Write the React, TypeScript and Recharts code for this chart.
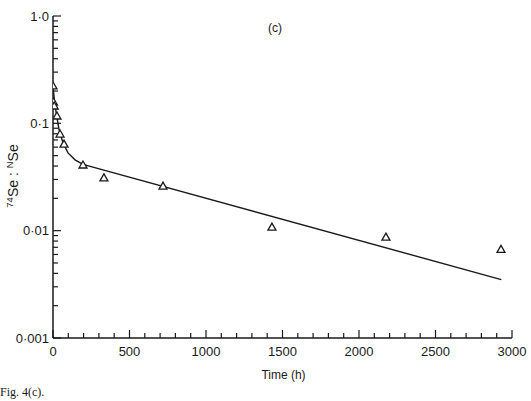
import React from 'react';
import { ComposedChart, Line, Scatter, XAxis, YAxis } from 'recharts';

// Observed 74Se : NSe ratios (triangles)
const obsTime = [0, 3, 8, 26, 46, 72, 196, 333, 719, 1431, 2176, 2928];
const obsRatio = [0.223, 0.158, 0.145, 0.117, 0.0795, 0.064, 0.0409, 0.031, 0.026, 0.0108, 0.0087, 0.0067];

// Fitted curve
const fitTime = [0, 10, 20, 39, 65, 98, 144, 196, 2930];
const fitRatio = [0.22, 0.16, 0.127, 0.088, 0.066, 0.053, 0.0457, 0.0415, 0.0035];

const xTicks = [0, 100, 200, 300, 400, 500, 600, 700, 800, 900, 1000, 1100, 1200, 1300, 1400, 1500, 1600, 1700, 1800, 1900, 2000, 2100, 2200, 2300, 2400, 2500, 2600, 2700, 2800, 2900, 3000];
const xMajor = [0, 500, 1000, 1500, 2000, 2500, 3000];
const yTicks = [0.001, 0.002, 0.003, 0.004, 0.005, 0.006, 0.007, 0.008, 0.009, 0.01, 0.02, 0.03, 0.04, 0.05, 0.06, 0.07, 0.08, 0.09, 0.1, 0.2, 0.3, 0.4, 0.5, 0.6, 0.7, 0.8, 0.9, 1];
const yMajor = [0.001, 0.01, 0.1, 1];
const yMajorLabels = ['0·001', '0·01', '0·1', '1·0'];

const obsData = obsTime.map((t, i) => ({ t, v: obsRatio[i] }));
const fitData = fitTime.map((t, i) => ({ t, v: fitRatio[i] }));

const FONT = '"Liberation Sans", Arial, Helvetica, sans-serif';
const INK = '#1a1a1a';

const YTick = (props: any) => {
  const { x, y, payload } = props;
  const idx = yMajor.findIndex((m) => Math.abs(m - payload.value) < 1e-9);
  const major = idx >= 0;
  return (
    <g>
      <line x1={x} x2={x + (major ? 8 : 5)} y1={y} y2={y} stroke={INK} strokeWidth={1.2} />
      {major && (
        <text x={x - 4} y={y} dy={4.5} textAnchor="end" fontFamily={FONT} fontSize={13} fill={INK}>
          {yMajorLabels[idx]}
        </text>
      )}
    </g>
  );
};

const XTick = (props: any) => {
  const { x, y, payload } = props;
  const major = xMajor.includes(payload.value);
  return (
    <g>
      <line x1={x} x2={x} y1={y} y2={y - (major ? 8 : 5)} stroke={INK} strokeWidth={1.2} />
      {major && (
        <text x={x} y={y} dy={18} textAnchor="middle" fontFamily={FONT} fontSize={13} fill={INK}>
          {payload.value}
        </text>
      )}
    </g>
  );
};

const Triangle = (props: any) => {
  const { cx, cy } = props;
  if (cx == null || cy == null) return null;
  const d = `M${cx},${cy - 4} L${cx - 4},${cy + 3} L${cx + 4},${cy + 3} Z`;
  return <path d={d} fill="white" stroke={INK} strokeWidth={1.3} strokeLinejoin="miter" />;
};

export default function App() {
  return (
    <div style={{ position: 'absolute', left: 0, top: 0, width: 531, height: 401, background: 'white' }}>
      <ComposedChart width={531} height={401} margin={{ top: 16, right: 19, left: 0, bottom: 0 }}>
        <XAxis
          dataKey="t"
          type="number"
          domain={[0, 3000]}
          ticks={xTicks}
          interval={0}
          height={63}
          tickSize={0}
          tickMargin={0}
          tickLine={false}
          axisLine={{ stroke: INK, strokeWidth: 1.5 }}
          tick={<XTick />}
          allowDataOverflow
        />
        <YAxis
          type="number"
          scale="log"
          domain={[0.001, 1]}
          ticks={yTicks}
          interval={0}
          width={53}
          tickSize={0}
          tickMargin={0}
          tickLine={false}
          axisLine={{ stroke: INK, strokeWidth: 1.5 }}
          tick={<YTick />}
          allowDataOverflow
        />
        <Line
          data={fitData}
          dataKey="v"
          type="linear"
          stroke={INK}
          strokeWidth={1.4}
          dot={false}
          isAnimationActive={false}
        />
        <Scatter data={obsData} dataKey="v" shape={<Triangle />} isAnimationActive={false} />
      </ComposedChart>
      <svg width={531} height={401} style={{ position: 'absolute', left: 0, top: 0, pointerEvents: 'none' }}>
        <text x={275} y={32} textAnchor="middle" fontFamily={FONT} fontSize={12} fill={INK}>(c)</text>
        <text x={283.5} y={379} textAnchor="middle" fontFamily={FONT} fontSize={12} fill={INK}>Time (h)</text>
        <text transform="translate(18,176) rotate(-90)" textAnchor="middle" fontFamily={FONT} fontSize={14} fill={INK}>
          <tspan fontSize={9.5} dy={-5}>74</tspan>
          <tspan dy={5}>Se : </tspan>
          <tspan fontSize={9.5} dy={-5}>N</tspan>
          <tspan dy={5}>Se</tspan>
        </text>
        <text x={0} y={396} fontFamily='"Liberation Serif", "Times New Roman", serif' fontSize={12} fill={INK}>Fig. 4(c).</text>
      </svg>
    </div>
  );
}
